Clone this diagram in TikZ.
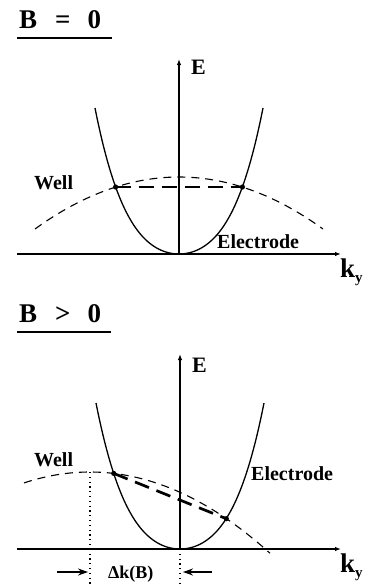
\documentclass[tikz,border=0pt]{standalone}
\usepackage{fontspec}
\setmainfont{Liberation Serif}
\usetikzlibrary{arrows.meta, positioning}

\begin{document}
\begin{tikzpicture}[
    x=1pt, y=-1pt,
    axis/.style={line width=1.3pt, -{Latex[length=6pt, width=4.5pt]}},
    band/.style={line width=1.3pt},
    well/.style={line width=1.1pt, dash pattern=on 8pt off 6pt},
    tunnel/.style={line width=2.7pt, dash pattern=on 15pt off 8pt},
    guide/.style={line width=1.2pt, dash pattern=on 1.2pt off 3.6pt},
    gap/.style={line width=1.3pt, -{Stealth[length=10pt, width=7pt]}},
    title/.style={font=\fontsize{27}{27}\selectfont\bfseries, inner sep=0, anchor=base west},
    lbl/.style={font=\fontsize{20}{20}\selectfont\bfseries, inner sep=0, anchor=base west},
    axlbl/.style={font=\fontsize{22}{22}\selectfont\bfseries, inner sep=0, anchor=base west},
  ]
  \useasboundingbox (0,0) rectangle (368,587);

  % B = 0
  \node[title] (t1) at (19,28) {B\hspace{18pt}=\hspace{17pt}0};
  \draw[line width=1.4pt] (17,38) -- (112,38);
  \coordinate (o1) at (179,254);
  \coordinate (x1l) at (17,254);
  \coordinate (x1r) at (341,254);
  \coordinate (y1t) at (179,59);
  \draw[axis] (x1l) -- (x1r);
  \draw[axis] (o1) -- (y1t);
  \node[axlbl] (e1) at (191,74) {E};
  \node[axlbl, font=\fontsize{27}{27}\selectfont\bfseries] (k1) at (340,277)
    {k\raisebox{-5pt}{\fontsize{15}{15}\selectfont y}};
  \draw[band] plot[domain=-1:1, samples=80, smooth] ({179+84*\x}, {254-80.5*(\x)^2-65.5*(\x)^4});
  \draw[well] plot[domain=-1:1, samples=60, smooth] ({179+144*\x}, {177+52*(\x)^2});
  \coordinate (p1) at (115.6,187);
  \coordinate (q1) at (242.4,187);
  \draw[tunnel] (p1) -- (q1);
  \fill (p1) circle (2.6pt) (q1) circle (2.6pt);
  \node[lbl] (w1) at (34,189) {Well};
  \node[lbl] (el1) at (217,248) {Electrode};

  % B > 0
  \node[title] (t2) at (19,322) {B\hspace{18pt}>\hspace{17pt}0};
  \draw[line width=1.4pt] (17,332) -- (111,332);
  \coordinate (o2) at (180,549);
  \coordinate (x2l) at (17,549);
  \coordinate (x2r) at (341,549);
  \coordinate (y2t) at (180,354);
  \draw[axis] (x2l) -- (x2r);
  \draw[axis] (o2) -- (y2t);
  \node[axlbl] (e2) at (192,372) {E};
  \node[axlbl, font=\fontsize{27}{27}\selectfont\bfseries] (k2) at (340,572)
    {k\raisebox{-5pt}{\fontsize{15}{15}\selectfont y}};
  \draw[band] plot[domain=-1:1, samples=80, smooth] ({180+84*\x}, {549-80.5*(\x)^2-65.5*(\x)^4});
  \draw[well] plot[domain=-0.458:1.25, samples=60, smooth] ({90+144*\x}, {472+52*(\x)^2});
  \coordinate (p2) at (113.7,473.4);
  \coordinate (q2) at (226.3,518.7);
  \draw[tunnel] (p2) -- (q2);
  \fill (p2) circle (2.6pt) (q2) circle (2.6pt);
  \node[lbl] (w2) at (34,466) {Well};
  \node[lbl] (el2) at (251,480) {Electrode};

  % shift of the well minimum
  \coordinate (m2) at (90,472);
  \coordinate (m2b) at (90,587);
  \coordinate (o2b) at (180,587);
  \draw[guide] (m2) -- (m2b);
  \draw[guide] (o2) -- (o2b);
  \node[lbl, font=\fontsize{18}{18}\selectfont\bfseries] (dk) at (108,578) {Δk(B)};
  \coordinate (al) at (57,572);
  \coordinate (ar) at (212,572);
  \draw[gap] (al) -- (88,572);
  \draw[gap] (ar) -- (183,572);
\end{tikzpicture}
\end{document}
